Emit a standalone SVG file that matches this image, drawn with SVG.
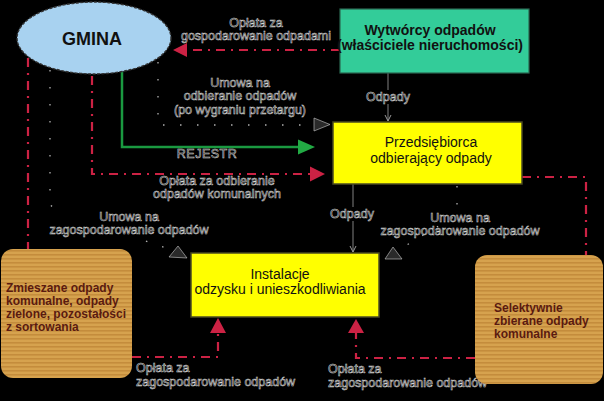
<svg xmlns="http://www.w3.org/2000/svg" width="604" height="401" viewBox="0 0 604 401">
<defs>
<style>
.lbl{font-family:"Liberation Sans",Arial,sans-serif;font-size:12.5px;fill:#000;stroke:#d8d8d8;stroke-width:0.55;}
.red{fill:none;stroke:#cc2244;stroke-width:2.2;stroke-dasharray:9 6 2 6;}
.dot{fill:none;stroke:#b0b0b0;stroke-width:1.3;stroke-dasharray:1.5 15.5;}
.blk{fill:none;stroke:#808080;stroke-width:1;}
.redhead{fill:#cc2244;}
.darkhead{fill:#2a2a2a;stroke:#cccccc;stroke-width:0.6;}
.box{font-family:"Liberation Sans",Arial,sans-serif;font-size:14px;fill:#111;}
.bold{font-weight:bold;}
.org{font-family:"Liberation Sans",Arial,sans-serif;font-size:12px;font-weight:bold;fill:#5a1a10;}
</style>
<pattern id="stripes" width="4" height="4" patternUnits="userSpaceOnUse">
<rect width="4" height="4" fill="#d6a24e"/>
<rect y="2" width="4" height="1.6" fill="#c48c3c"/>
</pattern>
<marker id="open" markerWidth="8" markerHeight="8" refX="7" refY="4" orient="auto" markerUnits="userSpaceOnUse">
<path d="M1,1 L7,4 L1,7" fill="none" stroke="#9a9a9a" stroke-width="1"/>
</marker>
</defs>
<rect width="604" height="401" fill="#000"/>

<g id="connectors">
<path class="red" d="M340,50 H187"/>
<polygon class="redhead" points="173,50 187,43 187,57"/>
<path class="blk" d="M388,73 V121" marker-end="url(#open)"/>
<path class="dot" d="M158,62 V125 H314"/>
<polygon class="darkhead" points="314,118 330,124.5 314,131"/>
<path d="M122,72 V147 H299" fill="none" stroke="#1a9940" stroke-width="2.5"/>
<polygon points="315,147 298,139.5 298,154.5" fill="#22aa44"/>
<path class="red" d="M92,76 V174 H310"/>
<polygon class="redhead" points="325,174 310,166.5 310,181.5"/>
<path class="red" d="M28,58 V249"/>
<path class="dot" d="M50,70 V205 L62,213 L172,250"/>
<polygon class="darkhead" points="169,257 178,246 187,258"/>
<path class="red" d="M522,177 H586 V255"/>
<path class="dot" d="M457,186 V215 L400,249"/>
<polygon class="darkhead" points="385,259 393,247 402,259"/>
<path class="blk" d="M353,184 V252" marker-end="url(#open)"/>
<path class="red" d="M132,357 H218 V333"/>
<polygon class="redhead" points="218,318 210,333 226,333"/>
<path class="red" d="M475,358 H356 V333"/>
<polygon class="redhead" points="356,319 348,333 364,333"/>
</g>

<g id="labels">
<text class="lbl" x="256" y="27" text-anchor="middle">Opłata za</text>
<text class="lbl" x="256" y="40" text-anchor="middle">gospodarowanie odpadami</text>
<rect x="366" y="90" width="44" height="14" fill="#000"/>
<text class="lbl" x="388" y="101" text-anchor="middle">Odpady</text>
<text class="lbl" x="240" y="87" text-anchor="middle">Umowa na</text>
<text class="lbl" x="240" y="100" text-anchor="middle">odbieranie odpadów</text>
<text class="lbl" x="240" y="114" text-anchor="middle">(po wygraniu przetargu)</text>
<text class="lbl" x="207" y="158" text-anchor="middle" letter-spacing="0.5">REJESTR</text>
<text class="lbl" x="217" y="185" text-anchor="middle">Opłata za odbieranie</text>
<text class="lbl" x="217" y="198" text-anchor="middle">odpadów komunalnych</text>
<rect x="44" y="209" width="172" height="29" fill="#000"/>
<text class="lbl" x="129" y="221" text-anchor="middle">Umowa na</text>
<text class="lbl" x="129" y="234" text-anchor="middle">zagospodarowanie odpadów</text>
<rect x="330" y="207" width="44" height="14" fill="#000"/>
<text class="lbl" x="352" y="218" text-anchor="middle">Odpady</text>
<text class="lbl" x="460" y="222" text-anchor="middle">Umowa na</text>
<text class="lbl" x="460" y="235" text-anchor="middle">zagospodarowanie odpadów</text>
<text class="lbl" x="136" y="372">Opłata za</text>
<text class="lbl" x="136" y="386">zagospodarowanie odpadów</text>
<text class="lbl" x="328" y="373">Opłata za</text>
<text class="lbl" x="328" y="387">zagospodarowanie odpadów</text>
</g>

<g id="gmina">
<ellipse cx="94" cy="38" rx="77" ry="36" fill="#a8d2f0" stroke="#333" stroke-width="1.4" stroke-dasharray="3 1.5"/>
<text x="92" y="45" text-anchor="middle" font-family="Liberation Sans, Arial, sans-serif" font-size="18" font-weight="bold" fill="#111">GMINA</text>
</g>

<g id="wytworcy">
<rect x="340" y="9" width="189" height="64" fill="#33cc99" stroke="#2a6650" stroke-width="1.2"/>
<text class="box bold" x="430" y="35" text-anchor="middle">Wytwórcy odpadów</text>
<text class="box bold" x="430" y="50" text-anchor="middle">(właściciele nieruchomości)</text>
</g>

<g id="przedsiebiorca">
<rect x="333" y="122" width="189" height="62" fill="#ffff00" stroke="#4a4a20" stroke-width="1.5"/>
<text class="box" x="431" y="147" text-anchor="middle">Przedsiębiorca</text>
<text class="box" x="431" y="163" text-anchor="middle">odbierający odpady</text>
</g>

<g id="instalacje">
<rect x="191" y="253" width="188" height="64" fill="#ffff00" stroke="#4a4a20" stroke-width="1.5"/>
<text class="box" x="280" y="279" text-anchor="middle">Instalacje</text>
<text class="box" x="280" y="294" text-anchor="middle">odzysku i unieszkodliwiania</text>
</g>

<g id="zmieszane">
<rect x="1" y="249" width="131" height="129" rx="12" fill="url(#stripes)"/>
<text class="org" x="6" y="292">Zmieszane odpady</text>
<text class="org" x="6" y="305">komunalne, odpady</text>
<text class="org" x="6" y="318">zielone, pozostałości</text>
<text class="org" x="6" y="331">z sortowania</text>
</g>

<g id="selektywnie">
<rect x="475" y="255" width="128" height="129" rx="12" fill="url(#stripes)"/>
<text class="org" x="494" y="312">Selektywnie</text>
<text class="org" x="494" y="325">zbierane odpady</text>
<text class="org" x="494" y="338">komunalne</text>
</g>
</svg>
